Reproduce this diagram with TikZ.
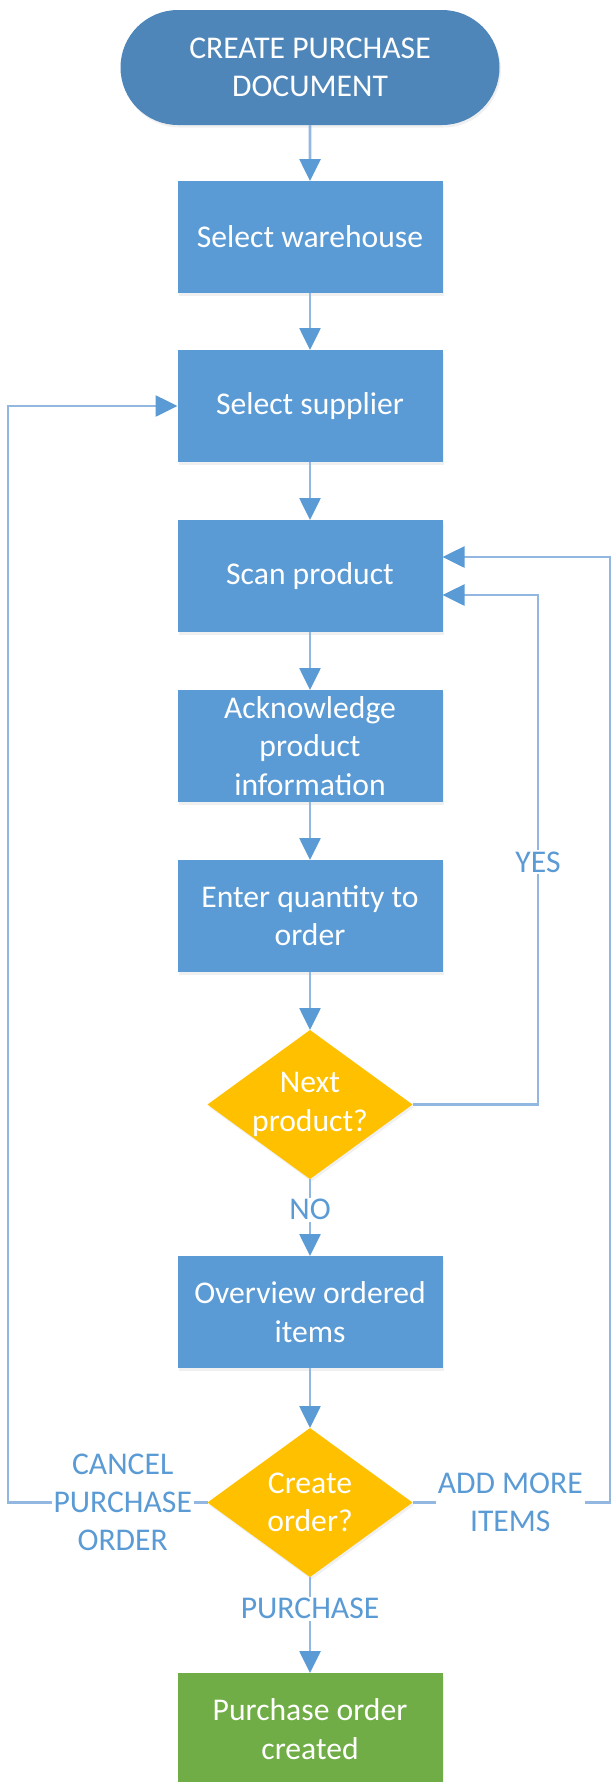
\documentclass[tikz,border=0pt]{standalone}
\usepackage{fontspec}
\setmainfont{Carlito}
\usepackage{tikz}
\usetikzlibrary{positioning, shapes.geometric, shapes.misc, arrows.meta, shadows}
\definecolor{termblue}{HTML}{4E86BA}
\definecolor{boxblue}{HTML}{5B9BD5}
\definecolor{askgold}{HTML}{FFC000}
\definecolor{okgreen}{HTML}{70AD47}
\definecolor{wireblue}{HTML}{92B8E2}

\begin{document}
\begin{tikzpicture}[font=\fontsize{18}{21.8}\selectfont, line width=1.5pt]
                \tikzset{box/.style={rectangle, fill=boxblue, text=white, align=center, inner sep=0pt, outer sep=0pt, minimum width=5.3cm, minimum height=2.24cm, drop shadow={opacity=0.12, shadow xshift=0.03cm, shadow yshift=-0.05cm}},
                    term/.style={rounded rectangle, fill=termblue, text=white, align=center, inner sep=0pt, outer sep=0pt, minimum width=7.58cm, minimum height=2.3cm, drop shadow={opacity=0.12, shadow xshift=0.03cm, shadow yshift=-0.05cm}},
                    ask/.style={diamond, aspect=1.376, fill=askgold, text=white, align=center, inner sep=0pt, outer sep=0pt, minimum width=4.1cm, minimum height=2.98cm, drop shadow={opacity=0.12, shadow xshift=0.03cm, shadow yshift=-0.05cm}},
                    lbl/.style={fill=white, text=boxblue, align=center, inner sep=1pt},
                    link/.style={draw=wireblue, -{Triangle[length=0.44cm, width=0.42cm, color=boxblue]}}};
                \useasboundingbox (0, 0) rectangle (12.24, -35.64);
                \node[term] (start) at (6.2, -1.35) {CREATE PURCHASE\\DOCUMENT};
                \node[box, below=1.12cm of start] (wh) {Select warehouse};
                \node[box, below=1.14cm of wh] (sup) {Select supplier};
                \node[box, below=1.16cm of sup] (scan) {Scan product};
                \node[box, below=1.16cm of scan] (ack) {Acknowledge\\product\\information};
                \node[box, below=1.16cm of ack] (qty) {Enter quantity to\\order};
                \node[ask, below=1.16cm of qty] (nextq) {Next\\product?};
                \node[box, below=1.54cm of nextq] (ovw) {Overview ordered\\items};
                \node[ask, below=1.2cm of ovw] (createq) {Create\\order?};
                \node[box, fill=okgreen, below=1.92cm of createq] (done) {Purchase order\\created};
                \coordinate (lx) at (0.16, 0);
                \coordinate (rx) at (12.2, 0);
                \coordinate (yx) at (10.76, 0);
                \coordinate (scanhi) at ([yshift=0.38cm]scan.east);
                \coordinate (scanlo) at ([yshift=-0.38cm]scan.east);
                \draw[link] (start) -- (wh);
                \draw[link] (wh) -- (sup);
                \draw[link] (sup) -- (scan);
                \draw[link] (scan) -- (ack);
                \draw[link] (ack) -- (qty);
                \draw[link] (qty) -- (nextq);
                \draw[link] (nextq) -- node[lbl, pos=0.4] {NO} (ovw);
                \draw[link] (ovw) -- (createq);
                \draw[link] (createq) -- node[lbl, pos=0.33] {PURCHASE} (done);
                \draw[link] (nextq.east) -- (nextq.east -| yx) -- node[lbl, pos=0.476] {YES} (yx |- scanlo) -- (scanlo);
                \draw[link] (createq.east) -- node[lbl, pos=0.495] {ADD MORE\\ITEMS} (createq.east -| rx) |- (scanhi);
                \draw[link] (createq.west) -- node[lbl, pos=0.425] {CANCEL\\PURCHASE\\ORDER} (createq.west -| lx) |- (sup.west);
            \end{tikzpicture}
\end{document}
